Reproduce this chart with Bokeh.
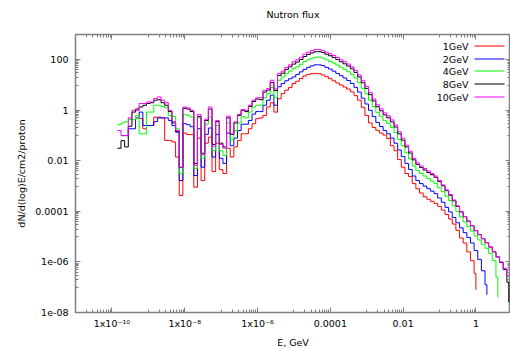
import math
from bokeh.plotting import figure
from bokeh.models import FixedTicker, CustomJSTickFormatter, LogAxis, Label, BoxAnnotation, Range1d
from bokeh.embed import file_html
from bokeh.resources import INLINE

# ---------------- data ----------------
series_names = ["1GeV", "2GeV", "4GeV", "8GeV", "10GeV"]
series_colors = ["#ff0000", "#0000ff", "#00ff00", "#000000", "#ff00ff"]
beam_energy_gev = [1, 2, 4, 8, 10]
first_bin_index = [6, 1, 0, 0, 0]
log_e_first_edge = -9.85      # log10(E/GeV) of the first bin edge
bin_width_dex = 0.1           # bin width in decades

# log10 of dN/d(log)E/cm2/proton, one value per bin, last value at beam energy
log_flux_1gev = [-0.32, -0.73, -0.6, -0.6, -0.27, -0.27, -0.3, -1.19, -1.2, -1.25, -1.85, -3.37,
                 -0.9, -0.96, -0.96, -3.04, -1.1, -2.78, -1.3, -1.06, -2.42, -1.3, -2.35, -2.5,
                 -1.5, -1.85, -1.45, -1.19, -0.93, -0.93, -0.73, -0.53, -0.33,
                 -0.3, -0.2, 0.13, 0.3, -0.07, 0.46, 0.66, 0.8, 0.9, 1.06, 1.15, 1.26, 1.36, 1.42,
                 1.45, 1.46, 1.45, 1.4, 1.33, 1.25, 1.17, 1.08, 1.0, 0.92, 0.84, 0.73, 0.58, 0.4,
                 0.12, -0.2, -0.5, -0.68, -0.79, -0.9, -0.98, -1.12, -1.4, -1.6, -1.95, -2.25,
                 -2.5, -2.62, -2.9, -3.1, -3.27, -3.42, -3.52, -3.6, -3.68, -3.8, -3.95, -4.12,
                 -4.3, -4.5, -4.75, -5.05, -5.25, -5.6, -5.95, -6.45, -7.1]
log_flux_2gev = [-1.0, -1.0, -0.73, -0.73, -0.3, -0.07, -0.6, -0.6, -0.6, -0.45, -0.3, -0.3, -0.3,
                 -0.4, -0.6, -0.86, -2.78, -0.53, -0.57, -0.65, -2.58, -0.73, -2.25, -0.95, -0.7,
                 -1.85, -0.95, -1.9, -2.1, -0.9, -1.4, -1.1, -0.8, -0.55, -0.55, -0.4, -0.15, -0.05,
                 -0.05, 0.2, 0.4, 0.6, 0.2, 0.93, 1.06, 1.17, 1.25, 1.32, 1.42, 1.52, 1.62, 1.7,
                 1.76, 1.8, 1.8, 1.77, 1.7, 1.63, 1.55, 1.46, 1.37, 1.28, 1.18, 1.06, 0.91, 0.72,
                 0.48, 0.25, 0.0, -0.25, -0.48, -0.64, -0.8, -0.93, -1.1, -1.3, -1.57, -1.83, -2.1,
                 -2.34, -2.6, -2.78, -2.9, -3.0, -3.1, -3.2, -3.3, -3.47, -3.64, -3.84, -4.02,
                 -4.24, -4.45, -4.65, -4.84, -5.03, -5.25, -5.55, -5.9, -6.35, -6.9, -7.3]
log_flux_4gev = [-0.57, -0.5, -0.45, -0.37, -0.37, -0.2, -0.93, -0.93, -0.07, -0.07, 0.2, 0.2, 0.15,
                 0.1, -0.2, -0.25, -0.73, -2.5, -0.16, -0.2, -0.27, -2.3, -0.3, -1.89, -0.55,
                 -0.27, -1.59, -0.6, -1.6, -1.79, -0.5, -1.15, -0.8, -0.5, -0.25, -0.3, -0.07,
                 0.13, 0.2,
                 0.2, 0.5, 0.66, 0.9, 0.5, 1.19, 1.32, 1.45, 1.55, 1.65, 1.72, 1.82, 1.93, 2.0,
                 2.06, 2.1, 2.1, 2.07, 2.0, 1.94, 1.87, 1.79, 1.7, 1.62, 1.53, 1.42, 1.28, 1.1,
                 0.87, 0.65, 0.4, 0.15, -0.08, -0.24, -0.4, -0.52, -0.68, -0.88, -1.15, -1.4,
                 -1.68, -1.92, -2.2, -2.38, -2.5, -2.6, -2.7, -2.8, -2.9, -3.06, -3.22, -3.4,
                 -3.57, -3.78, -4.0, -4.22, -4.42, -4.6, -4.78, -4.97, -5.13, -5.3, -5.46, -5.66,
                 -5.95, -6.6, -7.4]
log_flux_8gev = [-1.5, -1.2, -1.45, -0.63, -0.07, 0.05, 0.13, 0.2, 0.27, 0.3, 0.4, 0.42, 0.3, 0.2,
                 -0.05, -0.5, -0.85, -2.26, 0.08, 0.05, -0.05, -2.1, -0.25, -1.7, -0.4, 0.05,
                 -1.35, -0.45, -1.3, -1.45, -0.3, -0.95, -0.5, -0.2, 0.0, -0.05, 0.15, 0.35, 0.45,
                 0.42, 0.72, 0.8, 1.1, 0.78, 1.38, 1.47, 1.62, 1.72, 1.83, 1.91, 2.01, 2.13, 2.21,
                 2.27, 2.32, 2.32, 2.29, 2.22, 2.16, 2.09, 2.01, 1.92, 1.84, 1.75, 1.64, 1.5, 1.32,
                 1.09, 0.87, 0.62, 0.37, 0.14, -0.02, -0.18, -0.3, -0.46, -0.66, -0.93, -1.18,
                 -1.45, -1.69, -1.96, -2.14, -2.26, -2.36, -2.46, -2.55, -2.65, -2.82, -2.99,
                 -3.18, -3.36, -3.58, -3.8, -4.02, -4.21, -4.39, -4.57, -4.76, -4.92, -5.08,
                 -5.24, -5.41, -5.6, -5.8, -6.02, -6.3, -6.8, -7.6]
log_flux_10gev = [-0.8, -1.0, -1.0, -0.3, 0.0, 0.0, 0.27, 0.27, 0.33, 0.33, 0.47, 0.53, 0.4, 0.3,
                  0.0, -0.45, -0.8, -2.25, 0.13, 0.09, 0.0, -2.18, -0.16, -1.76, -0.35, 0.13,
                  -1.42, -0.4, -1.35, -1.5, -0.23, -0.93, -0.46, -0.16, 0.04, 0.0, 0.2, 0.4, 0.49,
                  0.5, 0.79, 0.86, 1.19, 0.85, 1.46, 1.55, 1.7, 1.8, 1.92, 2.0, 2.1, 2.22, 2.3,
                  2.36, 2.41, 2.4, 2.37, 2.3, 2.24, 2.17, 2.09, 2.0, 1.92, 1.83, 1.72, 1.58, 1.4,
                  1.17, 0.95, 0.7, 0.45, 0.22, 0.06, -0.1, -0.22, -0.38, -0.58, -0.85, -1.1,
                  -1.38, -1.62, -1.9, -2.08, -2.2, -2.3, -2.4, -2.5, -2.6, -2.78, -2.95, -3.15,
                  -3.33, -3.55, -3.78, -4.0, -4.2, -4.38, -4.56, -4.76, -4.92, -5.08, -5.24, -5.4,
                  -5.6, -5.8, -6.0, -6.25, -6.55, -6.95, -7.2]
all_log_flux = [log_flux_1gev, log_flux_2gev, log_flux_4gev, log_flux_8gev, log_flux_10gev]

x_major_ticks = [1e-10, 1e-8, 1e-6, 1e-4, 1e-2, 1.0]
x_tick_labels = ["1x10\u207b\u00b9\u2070", "1x10\u207b\u2078", "1x10\u207b\u2076", "0.0001", "0.01", "1"]
y_major_ticks = [1e-8, 1e-6, 1e-4, 1e-2, 1.0, 100.0]
y_tick_labels = ["1e-08", "1e-06", "0.0001", "0.01", "1", "100"]
title_text = "Nutron flux"

# ---------------- figure ----------------
FONT = "DejaVu Sans"
FS = "9.5px"
GRAY = "#808080"
FRAME_W, FRAME_H = 435, 278
BL, BR, BT, BB = 75, 0, 34, 37

p = figure(frame_width=FRAME_W, frame_height=FRAME_H, x_axis_type="log", y_axis_type="log",
           x_range=Range1d(1e-11, 10 ** 0.95), y_range=Range1d(1e-8, 1e3),
           output_backend="svg", toolbar_location=None,
           min_border_left=BL, min_border_right=BR, min_border_top=BT, min_border_bottom=BB)
p.background_fill_color = "white"
p.border_fill_color = "white"
p.outline_line_color = GRAY
p.outline_line_width = 1.5
p.xgrid.visible = False
p.ygrid.visible = False

x_minor = [k * 10.0 ** e for e in (-11, -9, -7, -5, -3, -1) for k in range(1, 10)]
y_minor = [k * 10.0 ** e for e in (-7, -5, -3, -1, 1) for k in range(1, 10)] + [1e3]
xticker = FixedTicker(ticks=x_major_ticks, minor_ticks=x_minor)
yticker = FixedTicker(ticks=y_major_ticks, minor_ticks=y_minor)

lookup_code = """
const lt = Math.log10(tick);
for (let i = 0; i < majors.length; i++) {
  if (Math.abs(Math.log10(majors[i]) - lt) < 1e-6) { return labels[i]; }
}
return "";
"""
xfmt = CustomJSTickFormatter(args=dict(majors=x_major_ticks, labels=x_tick_labels), code=lookup_code)
yfmt = CustomJSTickFormatter(args=dict(majors=y_major_ticks, labels=y_tick_labels), code=lookup_code)
blank = CustomJSTickFormatter(code="return '';")


def style_axis(ax):
    ax.axis_line_color = None
    ax.major_tick_line_color = GRAY
    ax.minor_tick_line_color = GRAY
    ax.major_tick_in = 5
    ax.major_tick_out = 0
    ax.minor_tick_in = 3
    ax.minor_tick_out = 0
    ax.major_label_text_font = FONT
    ax.major_label_text_font_size = FS
    ax.major_label_text_color = "black"
    ax.axis_label_text_font = FONT
    ax.axis_label_text_font_size = FS
    ax.axis_label_text_font_style = "normal"
    ax.axis_label_text_color = "black"


xa = p.xaxis[0]
xa.ticker = xticker
xa.formatter = xfmt
style_axis(xa)
xa.axis_label = "E, GeV"
xa.major_label_standoff = 5
xa.axis_label_standoff = 5

ya = p.yaxis[0]
ya.ticker = yticker
ya.formatter = yfmt
style_axis(ya)
ya.axis_label = "dN/d(log)E/cm2/proton"
ya.major_label_standoff = 7
ya.axis_label_standoff = 5

# mirrored top axis; its axis label carries the chart title (centred over the frame)
top = LogAxis(ticker=xticker, formatter=blank)
style_axis(top)
top.major_label_text_font_size = "0px"
top.major_label_standoff = 0
top.axis_label = title_text
top.axis_label_standoff = 15
p.add_layout(top, "above")

right = LogAxis(ticker=yticker, formatter=blank)
style_axis(right)
right.major_label_text_font_size = "0px"
right.major_label_standoff = 0
p.add_layout(right, "right")

# ---------------- series ----------------
for i, vals in enumerate(all_log_flux):
    k0 = first_bin_index[i]
    xs = [10 ** (log_e_first_edge + bin_width_dex * (k0 + j)) for j in range(len(vals) - 1)]
    xs.append(float(beam_energy_gev[i]))
    ys = [10 ** v for v in vals]
    p.step(xs, ys, mode="after", line_color=series_colors[i], line_width=1)

# ---------------- legend (text left, sample right) ----------------
leg_text_right = 393
leg_line_left, leg_line_right = 399, 429
leg_row_offsets = [11.5, 24.5, 36.5, 49.5, 62.5]   # px below the frame top (pixel-aligned)
for i, name in enumerate(series_names):
    yc = FRAME_H - leg_row_offsets[i]
    p.add_layout(Label(x=leg_text_right, y=yc, x_units="screen", y_units="screen", text=name,
                       text_align="right", text_baseline="middle", text_font=FONT,
                       text_font_size=FS, text_color="black"))
    p.add_layout(BoxAnnotation(left=leg_line_left, right=leg_line_right, bottom=yc - 0.5, top=yc + 0.5,
                               left_units="screen", right_units="screen",
                               bottom_units="screen", top_units="screen",
                               fill_color=series_colors[i], fill_alpha=1.0, line_color=None))

open("out.html", "w").write(file_html(p, INLINE))
